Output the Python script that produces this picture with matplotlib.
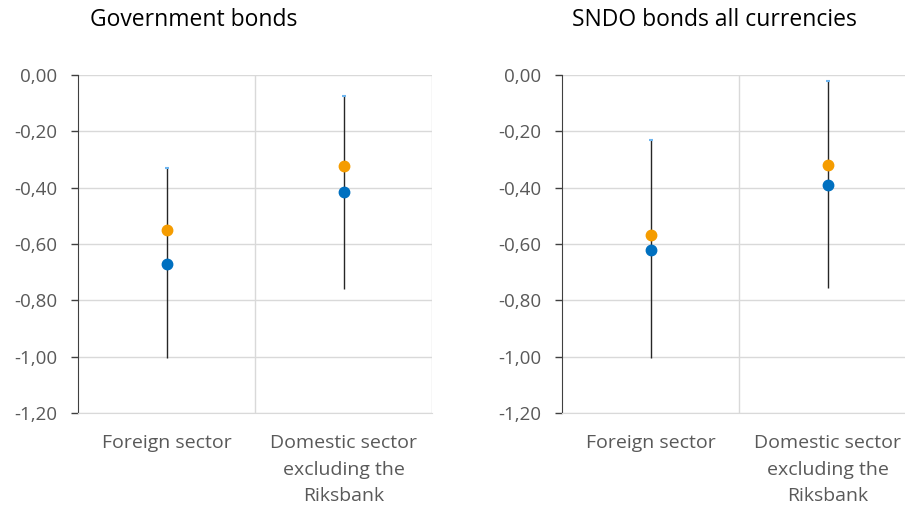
import matplotlib.pyplot as plt
import numpy as np

categories = ["Foreign sector", "Domestic sector\nexcluding the\nRiksbank"]
titles = ["Government bonds", "SNDO bonds all currencies"]

# per panel: high, low, orange point, blue point
gov_high = [-0.33, -0.075]
gov_low = [-1.005, -0.76]
gov_orange = [-0.55, -0.323]
gov_blue = [-0.67, -0.415]

sndo_high = [-0.23, -0.02]
sndo_low = [-1.005, -0.756]
sndo_orange = [-0.568, -0.32]
sndo_blue = [-0.62, -0.39]

yticks = [0.0, -0.2, -0.4, -0.6, -0.8, -1.0, -1.2]
ytick_labels = ["0,00", "-0,20", "-0,40", "-0,60", "-0,80", "-1,00", "-1,20"]

plt.rcParams['font.family'] = ['Open Sans', 'DejaVu Sans']

fig = plt.figure(figsize=(9.05, 5.07), dpi=100)
panels = [
    (gov_high, gov_low, gov_orange, gov_blue),
    (sndo_high, sndo_low, sndo_orange, sndo_blue),
]
lefts = [78 / 905, 562 / 905]
title_x = [90, 572]

for i, (hi, lo, orng, blu) in enumerate(panels):
    ax = fig.add_axes([lefts[i], 1 - 413 / 507, 354 / 905, 338 / 507])
    x = np.arange(len(categories))
    ax.vlines(x, lo, hi, color='#262626', lw=1.0, zorder=2)
    ax.plot(x, hi, ls='none', marker='_', ms=3, mew=1.5, color='#6FB6F0', zorder=3)
    ax.plot(x, orng, ls='none', marker='o', ms=7.5, color='#F59C00', zorder=4)
    ax.plot(x, blu, ls='none', marker='o', ms=7.5, color='#0070C0', zorder=4)

    ax.set_xlim(-0.5, 1.5)
    ax.set_ylim(-1.2, 0.0)
    ax.set_yticks(yticks)
    ax.set_yticklabels(ytick_labels)
    for y in yticks:
        ax.axhline(y, color='#D9D9D9', lw=1.0, zorder=1)
    for xv in [0.5, 1.5]:
        ax.axvline(xv, color='#D9D9D9', lw=1.0, zorder=1)
    ax.set_xticks(x)
    ax.set_xticklabels(categories, linespacing=1.62)
    ax.tick_params(axis='x', length=0, pad=15, labelsize=14, labelcolor='#595959')
    ax.tick_params(axis='y', length=5, width=1, color='#404040', pad=10,
                   labelsize=13.5, labelcolor='#595959')
    for s in ['top', 'right']:
        ax.spines[s].set_visible(False)
    ax.spines['bottom'].set_color('#D9D9D9')
    ax.spines['left'].set_color('#404040')
    fig.text(title_x[i] / 905, 1 - 20 / 507, titles[i], fontsize=16.5,
             color='black', va='center', ha='left')

fig.savefig('out.png', dpi=100)
